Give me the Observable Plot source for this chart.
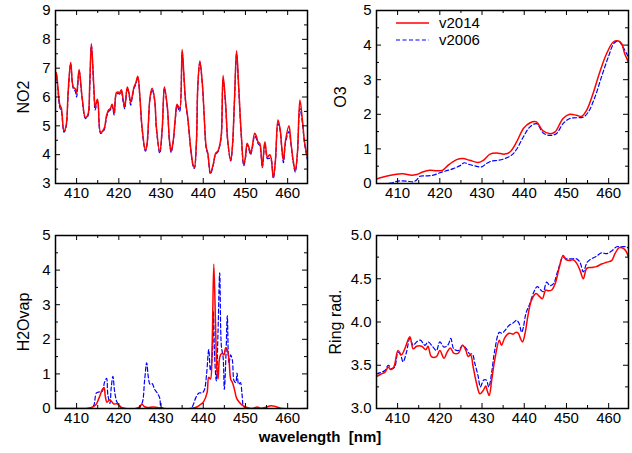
<!DOCTYPE html>
<html><head><meta charset="utf-8">
<script src="https://cdn.jsdelivr.net/npm/d3@7"></script>
<script src="https://cdn.jsdelivr.net/npm/@observablehq/plot@0.6"></script>
<style>
body{margin:0;background:#fff;font-family:"Liberation Sans",Arial,sans-serif;}
#wrap{position:relative;width:632px;height:453px;overflow:hidden;}
.p{position:absolute;}
.p text{font-size:15px !important;font-family:"Liberation Sans",Arial,sans-serif !important;fill:#000;}
.p g[aria-label="y-axis label"] text{font-size:16px !important;}
#xlab{position:absolute;left:0;width:632px;top:428px;text-align:center;font-weight:bold;font-size:15px;color:#000;padding-left:4px;}
</style></head><body><div id="wrap"></div>
<script>
// ---------- data ----------
const seriesNames = ["v2014", "v2006"];
const xMajorTicks = [410, 420, 430, 440, 450, 460];
const xMinorTicks = [415, 425, 435, 445, 455];

// NO2 (both versions share wavelengths)
const no2Wl = [405.0,405.2,405.6,406.0,406.4,407.0,407.5,408.0,408.6,409.2,409.7,410.0,410.6,411.3,412.1,412.7,413.1,413.5,414.1,414.4,414.9,415.1,415.7,416.5,417.1,417.6,418.0,418.4,418.9,419.4,419.8,420.2,420.6,421.0,421.4,422.0,422.4,422.8,423.2,423.6,424.0,424.5,425.0,425.5,426.3,426.7,427.4,427.9,428.5,428.9,429.7,430.3,430.8,431.5,432.0,432.4,432.9,433.4,433.8,434.4,435.0,435.4,435.8,436.4,437.0,437.6,437.9,438.4,438.7,439.2,439.8,440.2,440.7,441.1,441.7,442.4,442.9,443.5,443.9,444.3,444.7,445.3,445.8,446.5,446.9,447.4,447.9,448.4,449.0,449.6,450.0,450.4,450.8,451.2,451.6,452.2,452.6,453.0,453.4,454.0,454.6,455.2,455.6,455.8,456.1,456.6,457.1,457.7,458.2,458.6,459.0,459.5,460.3,460.8,461.3,461.8,462.3,462.9,463.5,464.0,464.7];
const no2V2014 = [6.6,6.85,6.3,5.75,5.6,4.82,5.0,6.2,7.2,6.35,6.28,6.15,6.95,6.0,5.28,5.4,6.4,7.85,6.3,5.65,5.92,5.8,4.78,4.9,5.37,5.56,5.6,5.75,5.45,6.14,6.17,6.15,6.25,5.95,5.65,6.35,6.15,5.82,6.05,6.35,6.48,6.72,6.0,4.96,4.15,4.4,6.0,6.3,5.9,4.96,4.1,4.96,6.35,5.65,4.5,4.12,4.5,5.3,5.75,5.6,7.65,6.8,5.9,5.2,4.27,3.64,3.55,4.5,6.35,7.25,6.46,5.43,4.27,4.04,3.37,3.69,4.04,4.13,4.33,4.73,6.75,5.77,4.5,3.8,4.27,5.9,7.6,6.35,4.73,3.66,3.92,4.4,4.27,4.04,4.27,4.74,4.64,4.44,4.39,3.58,4.45,3.92,3.98,4.0,3.87,3.2,3.81,5.2,4.9,4.27,3.8,4.5,5.0,4.39,3.81,3.45,4.04,5.9,5.2,4.44,3.9];
const no2V2006 = [6.55,6.8,6.2,5.65,5.5,4.78,4.95,6.1,7.15,6.3,6.2,6.0,6.9,5.95,5.25,5.35,6.3,7.8,6.2,5.55,5.85,5.75,4.74,4.85,5.3,5.5,5.55,5.7,5.38,6.1,6.12,6.1,6.2,5.85,5.6,6.3,6.1,5.72,6.0,6.3,6.42,6.68,5.95,4.9,4.12,4.35,5.95,6.25,5.85,4.9,4.05,4.9,6.3,5.6,4.45,4.08,4.45,5.25,5.7,5.5,7.55,6.75,5.85,5.15,4.22,3.6,3.52,4.45,6.3,7.2,6.4,5.4,4.22,4.0,3.33,3.65,4.0,4.1,4.3,4.68,6.6,5.7,4.45,3.78,4.22,5.85,7.5,6.3,4.68,3.62,3.88,4.35,4.2,4.0,4.2,4.65,4.55,4.38,4.32,3.55,4.4,3.86,3.88,3.85,3.82,3.18,3.75,5.08,4.85,4.22,3.72,4.42,4.8,4.35,3.75,3.4,4.0,5.6,5.1,4.38,3.8];

// O3
const o3WlV2014 = [405.0,406.6,409.7,411.3,413.3,414.5,416.1,417.6,419.2,420.6,422.0,424.0,425.5,427.1,429.1,430.3,431.9,433.4,435.4,436.6,438.2,439.8,441.3,442.9,444.3,446.1,447.3,449.2,450.8,452.4,453.6,454.8,456.3,457.9,459.5,461.1,462.3,463.1,463.8,464.7];
const o3V2014 = [0.13,0.19,0.27,0.28,0.24,0.26,0.34,0.38,0.37,0.38,0.53,0.69,0.72,0.67,0.61,0.67,0.85,0.88,0.85,0.91,1.2,1.59,1.75,1.78,1.54,1.44,1.49,1.88,2.0,1.97,1.94,2.12,2.6,3.22,3.75,4.09,4.12,4.04,3.75,3.51];
const o3WlV2006 = [405.0,407.4,409.0,410.1,412.1,413.7,414.5,415.3,416.8,418.4,420.0,421.6,423.2,424.7,425.8,426.7,428.3,429.9,431.1,432.3,433.8,435.4,437.0,438.2,439.8,441.3,442.9,444.5,446.1,447.6,449.2,450.8,452.4,454.0,455.2,456.7,458.3,459.9,461.3,462.3,463.4,464.7];
const o3V2006 = [0.0,0.0,0.03,0.07,0.07,0.05,0.1,0.21,0.22,0.24,0.31,0.37,0.43,0.51,0.6,0.56,0.51,0.48,0.58,0.65,0.67,0.72,0.82,0.99,1.35,1.63,1.73,1.46,1.39,1.44,1.73,1.88,1.9,1.92,2.07,2.48,3.08,3.65,4.06,4.12,3.94,3.65];

// H2O vapour
const h2oWlV2014 = [405.0,410.0,412.1,413.3,414.5,415.3,416.1,416.5,416.8,417.2,417.8,418.3,418.8,419.5,420.0,420.6,421.6,424.0,424.7,425.5,426.1,426.7,428.3,429.5,430.7,437.0,437.8,438.6,439.4,440.1,440.9,441.3,441.7,442.1,442.5,442.9,443.2,443.5,443.8,444.1,444.5,444.9,445.3,445.7,446.1,446.5,446.9,447.3,447.9,448.4,449.2,450.4,451.6,452.8,453.6,455.2,456.0,457.1,458.3,465.0];
const h2oV2014 = [0,0,0,0.02,0.1,0.3,0.55,0.61,0.35,0.18,0.25,0.2,0.13,0.14,0.1,0.03,0,0,0.03,0.12,0.05,0.03,0.04,0.02,0,0,0.02,0.05,0.12,0.2,0.45,0.9,0.85,1.8,4.17,2.5,1.2,0.85,1.4,1.55,1.6,1.55,1.75,1.7,1.4,0.85,0.75,0.6,0.3,0.2,0.1,0.03,0,0.04,0.01,0.05,0.08,0.06,0.01,0];
const h2oWlV2006 = [405.0,413.5,414.1,414.7,415.4,416.1,416.6,417.1,417.4,417.9,418.2,418.6,419.0,419.5,420.0,420.6,421.2,424.5,425.5,426.1,426.6,427.0,427.4,427.9,428.5,429.1,429.7,430.0,430.7,437.0,437.6,438.2,439.0,439.8,440.3,440.8,441.3,441.7,442.1,442.4,442.7,443.1,443.5,443.9,444.3,444.7,445.0,445.4,445.7,446.1,446.5,446.9,447.3,447.7,448.0,448.4,448.8,449.2,449.6,450.4,465.0];
const h2oV2006 = [0,0,0.1,0.45,0.48,0.5,0.75,0.87,0.4,0.15,0.6,0.93,0.5,0.2,0.1,0.03,0,0,0.15,0.8,1.32,0.9,0.7,0.72,0.55,0.45,0.3,0.05,0,0,0.1,0.3,0.45,0.45,0.55,1.0,1.7,1.1,1.45,2.8,1.5,0.8,2.2,3.92,1.8,1.5,0.55,1.6,2.68,1.3,1.55,1.4,0.8,0.75,1.02,0.7,0.75,0.4,0.05,0,0];

// Ring radiance
const ringWlV2014 = [405.0,406.2,407.0,407.8,408.3,409.1,410.1,410.9,411.7,412.9,413.7,414.5,415.7,416.7,417.2,418.0,419.2,420.0,421.0,421.7,422.5,423.3,424.4,425.4,426.2,426.7,427.3,427.9,428.7,429.5,430.3,430.9,431.2,431.7,432.3,433.0,434.1,434.6,435.4,436.4,437.4,438.0,438.6,439.1,439.6,440.2,440.9,441.7,442.8,443.7,444.3,445.1,445.7,446.5,447.3,448.3,449.2,449.9,450.7,451.6,452.4,453.2,454.0,454.8,455.9,457.1,458.3,459.5,460.7,461.5,462.5,463.5,464.2,464.7];
const ringV2014 = [3.37,3.4,3.42,3.48,3.45,3.48,3.67,3.62,3.69,3.83,3.69,3.72,3.72,3.68,3.72,3.6,3.6,3.67,3.58,3.65,3.7,3.64,3.64,3.73,3.67,3.6,3.62,3.48,3.29,3.17,3.21,3.26,3.21,3.15,3.33,3.56,3.79,3.73,3.82,3.87,3.86,3.88,3.87,3.81,3.77,3.87,4.08,4.25,4.33,4.29,4.27,4.37,4.36,4.37,4.44,4.63,4.77,4.72,4.71,4.72,4.68,4.6,4.5,4.62,4.63,4.64,4.67,4.69,4.71,4.79,4.86,4.85,4.81,4.75];
const ringWlV2006 = [405.0,406.2,407.0,407.8,408.6,409.3,410.1,410.7,411.3,412.1,412.9,413.7,414.5,415.4,416.5,417.2,418.4,419.2,420.0,421.0,422.0,422.6,423.3,424.4,425.4,426.3,427.1,427.7,428.3,429.1,429.6,430.4,431.0,431.6,432.3,433.0,434.1,434.7,435.4,436.4,437.4,438.2,438.8,439.4,439.8,440.4,441.3,442.3,443.1,443.9,444.5,445.3,446.1,446.9,448.0,449.2,450.0,451.2,452.4,453.2,454.0,454.9,455.9,457.1,458.3,459.5,460.7,461.9,463.0,464.2,464.7];
const ringV2006 = [3.4,3.42,3.44,3.5,3.46,3.48,3.65,3.62,3.54,3.65,3.81,3.73,3.77,3.79,3.73,3.77,3.71,3.67,3.77,3.71,3.74,3.81,3.69,3.67,3.73,3.69,3.63,3.63,3.52,3.37,3.25,3.33,3.33,3.25,3.42,3.67,3.88,3.87,3.9,3.96,3.99,4.02,3.98,3.88,3.94,4.1,4.21,4.35,4.41,4.37,4.35,4.46,4.42,4.44,4.6,4.75,4.73,4.73,4.73,4.69,4.58,4.69,4.73,4.76,4.8,4.79,4.82,4.87,4.87,4.87,4.85];

// ---------- drawing ----------
const W = 316, H = 215;
const RED = "#ff0000", BLUE = "#0000ff";
const FONT = '"Liberation Sans", Arial, sans-serif';
function rows(wl, v) { return wl.map((w, i) => ({wl: w, v: v[i]})); }

function panel({left, top, marginLeft, marginRight, wl14, v14, wl06, v06, yDomain, yMajor, yMinor, label, fmt, labelOffset}) {
  const marginTop = 10, marginBottom = 32;
  const innerH = H - marginTop - marginBottom;
  const innerW = W - marginLeft - marginRight;
  const tk = 5, tm = 3;
  const p = Plot.plot({
    width: W, height: H, marginLeft, marginRight, marginTop, marginBottom,
    x: {domain: [405, 464.7]},
    y: {domain: yDomain},
    style: {fontFamily: FONT, fontSize: "15px", color: "#000", background: "transparent", overflow: "visible"},
    marks: [
      Plot.lineY(rows(wl06, v06), {x: "wl", y: "v", stroke: BLUE, strokeWidth: 1.2, strokeDasharray: "4,2.5", curve: "catmull-rom", clip: true}),
      Plot.lineY(rows(wl14, v14), {x: "wl", y: "v", stroke: RED, strokeWidth: 1.5, curve: "catmull-rom", clip: true}),
      Plot.tickX(xMajorTicks, {x: d => d, insetTop: innerH - tk, stroke: "#000"}),
      Plot.tickX(xMajorTicks, {x: d => d, insetBottom: innerH - tk, stroke: "#000"}),
      Plot.tickX(xMinorTicks, {x: d => d, insetTop: innerH - tm, stroke: "#000"}),
      Plot.tickX(xMinorTicks, {x: d => d, insetBottom: innerH - tm, stroke: "#000"}),
      Plot.tickY(yMajor, {y: d => d, insetRight: innerW - tk, stroke: "#000"}),
      Plot.tickY(yMajor, {y: d => d, insetLeft: innerW - tk, stroke: "#000"}),
      Plot.tickY(yMinor, {y: d => d, insetRight: innerW - tm, stroke: "#000"}),
      Plot.tickY(yMinor, {y: d => d, insetLeft: innerW - tm, stroke: "#000"}),
      Plot.frame({stroke: "#000", strokeWidth: 1.5}),
      Plot.axisX(xMajorTicks, {tickSize: 0, tickPadding: 4, label: null}),
      Plot.axisY(yMajor, {tickSize: 0, tickPadding: 5, tickFormat: fmt, label, labelAnchor: "center", labelOffset, labelArrow: "none"})
    ]
  });
  p.classList.add("p");
  p.style.left = left + "px";
  p.style.top = top + "px";
  document.getElementById("wrap").appendChild(p);
}

const intFmt = d => String(d);
const oneDec = d => d.toFixed(1);

panel({left: 0, top: 0, marginLeft: 55, marginRight: 9, wl14: no2Wl, v14: no2V2014, wl06: no2Wl, v06: no2V2006,
  yDomain: [3, 9], yMajor: [3,4,5,6,7,8,9], yMinor: [3.5,4.5,5.5,6.5,7.5,8.5], label: "NO2", fmt: intFmt, labelOffset: 38});
panel({left: 316, top: 0, marginLeft: 60, marginRight: 4, wl14: o3WlV2014, v14: o3V2014, wl06: o3WlV2006, v06: o3V2006,
  yDomain: [0, 5], yMajor: [0,1,2,3,4,5], yMinor: [0.5,1.5,2.5,3.5,4.5], label: "O3", fmt: intFmt, labelOffset: 42});
panel({left: 0, top: 225, marginLeft: 55, marginRight: 9, wl14: h2oWlV2014, v14: h2oV2014, wl06: h2oWlV2006, v06: h2oV2006,
  yDomain: [0, 5], yMajor: [0,1,2,3,4,5], yMinor: [0.5,1.5,2.5,3.5,4.5], label: "H2Ovap", fmt: intFmt, labelOffset: 38});
panel({left: 316, top: 225, marginLeft: 60, marginRight: 4, wl14: ringWlV2014, v14: ringV2014, wl06: ringWlV2006, v06: ringV2006,
  yDomain: [3, 5], yMajor: [3,3.5,4,4.5,5], yMinor: [3.25,3.75,4.25,4.75], label: "Ring rad.", fmt: oneDec, labelOffset: 47});

// legend (top-right panel)
const wrap = document.getElementById("wrap");
const NS = "http://www.w3.org/2000/svg";
const leg = document.createElementNS(NS, "svg");
leg.setAttribute("width", "110");
leg.setAttribute("height", "40");
leg.style.position = "absolute";
leg.style.left = "390px";
leg.style.top = "12px";
const legStyles = [{color: RED, dash: null, w: 1.5}, {color: BLUE, dash: "4,2.5", w: 1.2}];
seriesNames.forEach((name, i) => {
  const y = 11 + i * 17;
  const ln = document.createElementNS(NS, "line");
  ln.setAttribute("x1", 6); ln.setAttribute("x2", 39);
  ln.setAttribute("y1", y); ln.setAttribute("y2", y);
  ln.setAttribute("stroke", legStyles[i].color);
  ln.setAttribute("stroke-width", legStyles[i].w);
  if (legStyles[i].dash) ln.setAttribute("stroke-dasharray", legStyles[i].dash);
  leg.appendChild(ln);
  const t = document.createElementNS(NS, "text");
  t.setAttribute("x", 49); t.setAttribute("y", y + 5);
  t.setAttribute("font-size", "15");
  t.setAttribute("font-family", FONT);
  t.textContent = name;
  leg.appendChild(t);
});
wrap.appendChild(leg);

const xl = document.createElement("div");
xl.id = "xlab";
xl.innerHTML = "wavelength&nbsp;&nbsp;[nm]";
wrap.appendChild(xl);
</script>
</body></html>
